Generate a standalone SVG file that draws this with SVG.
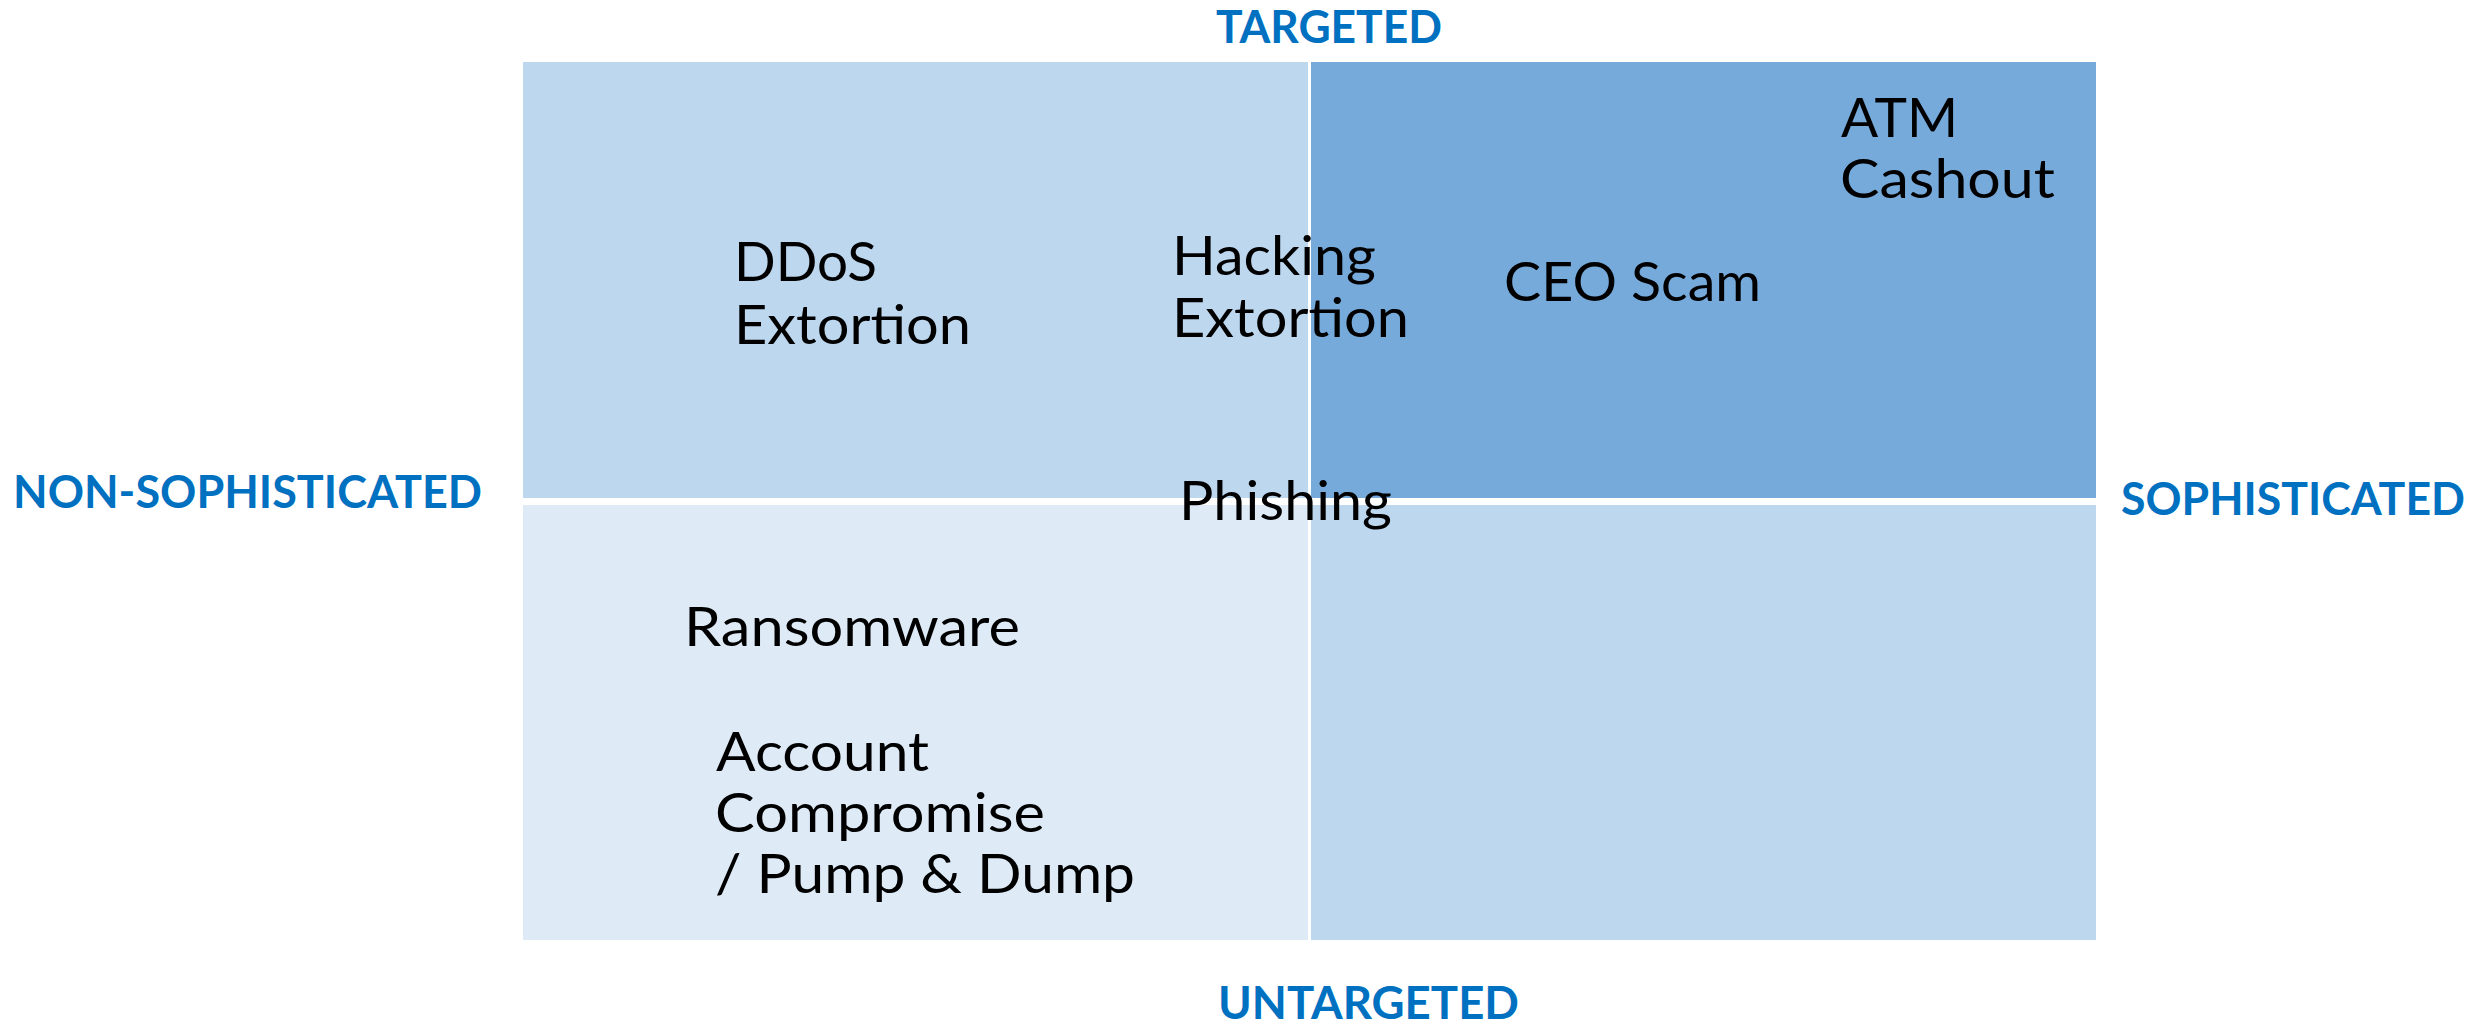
<svg xmlns="http://www.w3.org/2000/svg" width="2483" height="1025" viewBox="0 0 2483 1025">
  <style>
    .axis { font-family: Lato, "Liberation Sans", sans-serif; font-weight: 700; font-size: 46px; fill: #0070C0; }
    .item { font-family: Lato, "Liberation Sans", sans-serif; font-weight: 400; font-size: 55px; fill: #000000; }
    .q-light { fill: #BDD7EE; }
    .q-dark { fill: #76AADB; }
    .q-pale { fill: #DEEBF7; }
  </style>
  <rect x="0" y="0" width="2483" height="1025" fill="#FFFFFF"/>

  <g id="quadrant-targeted-nonsophisticated"><rect class="q-light" x="523" y="62" width="785" height="436"/></g>
  <g id="quadrant-targeted-sophisticated"><rect class="q-dark" x="1311" y="62" width="785" height="436"/></g>
  <g id="quadrant-untargeted-nonsophisticated"><rect class="q-pale" x="523" y="505" width="785" height="435"/></g>
  <g id="quadrant-untargeted-sophisticated"><rect class="q-light" x="1311" y="505" width="785" height="435"/></g>

  <g id="connectors"></g>

  <g id="label-targeted"><text class="axis" x="1216" y="43" textLength="226" lengthAdjust="spacingAndGlyphs">TARGETED</text></g>
  <g id="label-untargeted"><text class="axis" x="1218" y="1019" textLength="301" lengthAdjust="spacingAndGlyphs">UNTARGETED</text></g>
  <g id="label-nonsophisticated"><text class="axis" x="13" y="508" textLength="469" lengthAdjust="spacingAndGlyphs">NON-SOPHISTICATED</text></g>
  <g id="label-sophisticated"><text class="axis" x="2121" y="515" textLength="344" lengthAdjust="spacingAndGlyphs">SOPHISTICATED</text></g>

  <g id="item-ddos-extortion">
    <text class="item" x="734" y="281" textLength="143" lengthAdjust="spacingAndGlyphs">DDoS</text>
    <text class="item" x="734" y="344" textLength="237" lengthAdjust="spacingAndGlyphs">Extortion</text>
  </g>
  <g id="item-hacking-extortion">
    <text class="item" x="1172" y="275" textLength="204" lengthAdjust="spacingAndGlyphs">Hacking</text>
    <text class="item" x="1172" y="337" textLength="237" lengthAdjust="spacingAndGlyphs">Extortion</text>
  </g>
  <g id="item-ceo-scam"><text class="item" x="1504" y="301" textLength="257" lengthAdjust="spacingAndGlyphs">CEO Scam</text></g>
  <g id="item-atm-cashout">
    <text class="item" x="1841" y="137" textLength="117" lengthAdjust="spacingAndGlyphs">ATM</text>
    <text class="item" x="1840" y="198" textLength="215" lengthAdjust="spacingAndGlyphs">Cashout</text>
  </g>
  <g id="item-phishing"><text class="item" x="1179" y="520" textLength="213" lengthAdjust="spacingAndGlyphs">Phishing</text></g>
  <g id="item-ransomware"><text class="item" x="684" y="646" textLength="336" lengthAdjust="spacingAndGlyphs">Ransomware</text></g>
  <g id="item-account-compromise">
    <text class="item" x="716" y="771" textLength="213" lengthAdjust="spacingAndGlyphs">Account</text>
    <text class="item" x="715" y="832" textLength="330" lengthAdjust="spacingAndGlyphs">Compromise</text>
    <text class="item" x="715" y="893" textLength="420" lengthAdjust="spacingAndGlyphs">/ Pump &amp; Dump</text>
  </g>
</svg>
